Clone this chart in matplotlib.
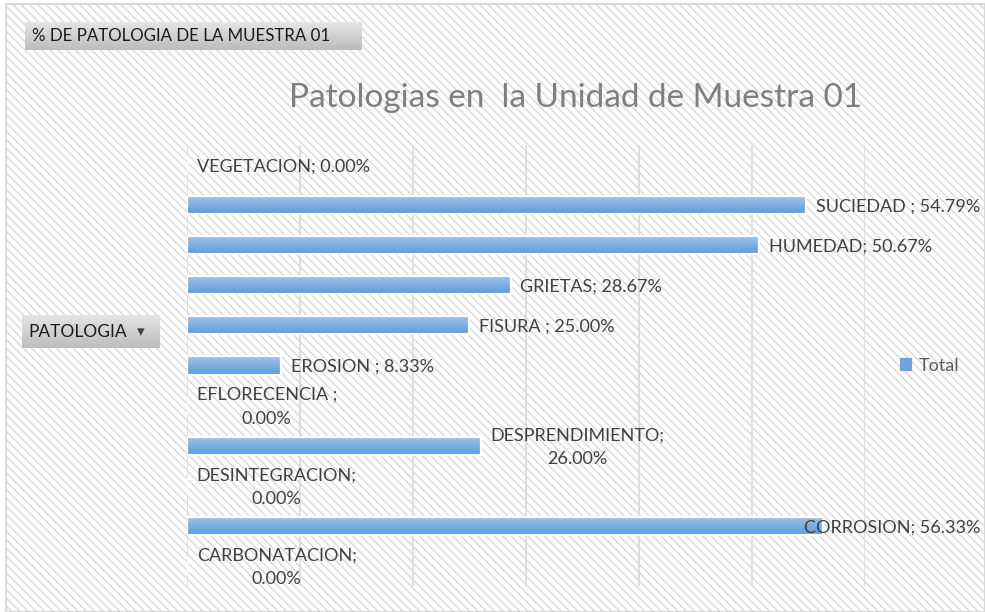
import numpy as np
import matplotlib.pyplot as plt
from matplotlib.patches import Rectangle
from matplotlib.colors import LinearSegmentedColormap

# datos de la muestra 01 (orden de abajo hacia arriba)
patologias = ['CARBONATACION', 'CORROSION', 'DESINTEGRACION', 'DESPRENDIMIENTO',
              'EFLORECENCIA', 'EROSION', 'FISURA', 'GRIETAS', 'HUMEDAD',
              'SUCIEDAD', 'VEGETACION']
porcentajes = [0.00, 56.33, 0.00, 26.00, 0.00, 8.33, 25.00, 28.67, 50.67, 54.79, 0.00]
etiquetas = ['CARBONATACION;\n0.00%', 'CORROSION; 56.33%', 'DESINTEGRACION;\n0.00%',
             'DESPRENDIMIENTO;\n26.00%', 'EFLORECENCIA ;\n0.00%', 'EROSION ; 8.33%',
             'FISURA ; 25.00%', 'GRIETAS; 28.67%', 'HUMEDAD; 50.67%',
             'SUCIEDAD ; 54.79%', 'VEGETACION; 0.00%']

plt.rcParams['font.family'] = ['Lato', 'DejaVu Sans']
plt.rcParams['hatch.linewidth'] = 1.0
plt.rcParams['hatch.color'] = '#e4e4e4'

fig = plt.figure(figsize=(9.85, 6.12), dpi=100)
fig.patch.set_facecolor('white')

# fondo rayado del grafico
fondo = Rectangle((0.006, 0.0), 0.994, 0.993, transform=fig.transFigure,
                  facecolor='white', edgecolor='#d9d9d9', linewidth=1.5,
                  hatch='\\\\\\\\', zorder=-10)
fig.patches.append(fondo)

ax = fig.add_axes([0.1898, 0.0425, 0.688, 0.7205])
ax.set_facecolor('none')

y = np.arange(len(patologias))
bars = ax.barh(y, porcentajes, height=0.45, color='#7eb0e0',
               edgecolor='white', linewidth=1.6, zorder=3)

# degradado azul dentro de cada barra
grad = np.linspace(0, 1, 64).reshape(-1, 1)
cmap = LinearSegmentedColormap.from_list('azul', ['#5b9bd5', '#a3c4e9'])
for b in bars:
    if b.get_width() <= 0:
        continue
    x0, y0 = b.get_x(), b.get_y()
    im = ax.imshow(grad, cmap=cmap, aspect='auto', zorder=3.5,
                   extent=(x0, x0 + b.get_width(), y0 + b.get_height(), y0),
                   origin='upper')
    im.set_clip_path(b)
    b.set_facecolor('none')
    b.set_zorder(4)

ax.set_xlim(0, 60)
ax.set_ylim(-0.5, len(patologias) - 0.5)
ax.set_xticks(np.arange(0, 61, 10))
ax.grid(axis='x', color='#d9d9d9', linewidth=1.2, zorder=1)
ax.tick_params(left=False, bottom=False, labelleft=False, labelbottom=False)
for s in ax.spines.values():
    s.set_visible(False)

# etiquetas de datos
for i, (v, txt) in enumerate(zip(porcentajes, etiquetas)):
    dx = 7
    if patologias[i] == 'CORROSION':
        dx = -14
    ax.annotate(txt, xy=(v, i), xytext=(dx, -1), textcoords='offset points',
                ha='left', va='center', multialignment='center',
                fontsize=13, color='#404040', zorder=6, linespacing=1.6,
                annotation_clip=False)

# titulo
fig.text(0.584, 0.840, 'Patologias en  la Unidad de Muestra 01', ha='center',
         va='center', fontsize=24, color='#7f7f7f')

# botones de la tabla dinamica (con degradado gris)
gris = LinearSegmentedColormap.from_list('gris', ['#e6e6e6', '#bdbdbd'])

def boton(x, y, w, h, texto, fs):
    bax = fig.add_axes([x, y, w, h])
    bax.imshow(np.linspace(0, 1, 32).reshape(-1, 1), cmap=gris, aspect='auto',
               extent=(0, 1, 0, 1))
    bax.set_xlim(0, 1)
    bax.set_ylim(0, 1)
    bax.axis('off')
    bax.text(0.02 if w > 0.2 else 0.045, 0.5, texto, ha='left', va='center',
             fontsize=fs, color='#1a1a1a')
    return bax

boton(0.0254, 0.918, 0.342, 0.046, '% DE PATOLOGIA DE LA MUESTRA 01', 12.2)
pax = boton(0.0223, 0.431, 0.140, 0.054, 'PATOLOGIA', 12.5)
pax.text(0.86, 0.5, '\u25be', ha='center', va='center', fontsize=11,
         color='#404040', family=['DejaVu Sans'])

# leyenda
leg = ax.legend([bars[1]], ['Total'], loc='center left', bbox_to_anchor=(1.03, 0.5),
                frameon=False, fontsize=13, handlelength=0.55, handleheight=0.55,
                handletextpad=0.4, labelcolor='#595959')
for h in leg.legend_handles:
    h.set_facecolor('#6fa5dc')
    h.set_edgecolor('#6fa5dc')

plt.savefig('out.png', dpi=100)
